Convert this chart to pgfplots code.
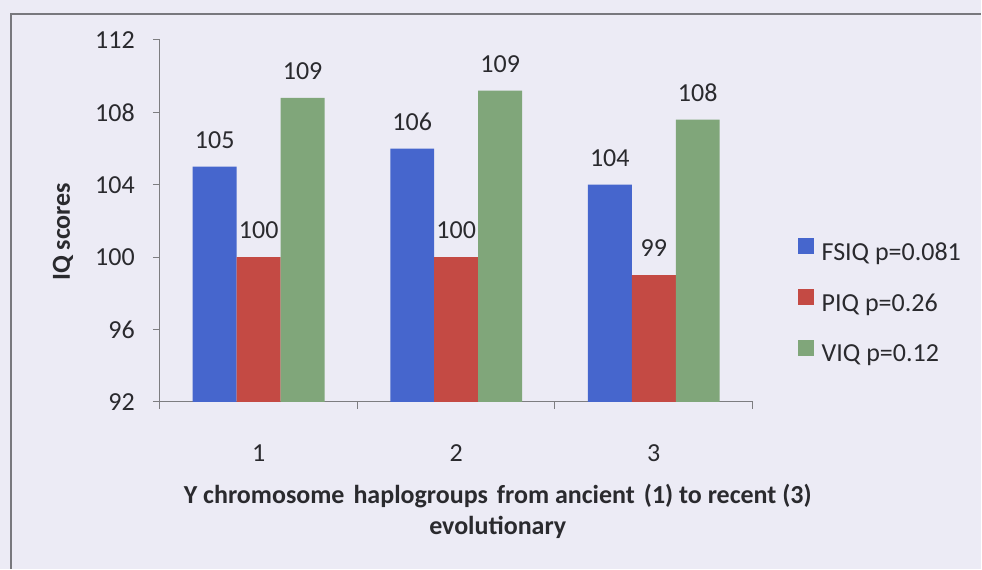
\documentclass[border=0pt]{standalone}
\usepackage{pgfplots}
\pgfplotsset{compat=1.18}
\usepackage{fontspec}
\setmainfont{Carlito}

\definecolor{bgpaper}{RGB}{236,235,245}
\definecolor{framegray}{RGB}{120,120,125}
\definecolor{axisgray}{RGB}{125,125,128}
\definecolor{txt}{RGB}{42,42,46}
\definecolor{fsiq}{RGB}{70,102,205}
\definecolor{piq}{RGB}{196,74,68}
\definecolor{viq}{RGB}{128,166,122}

\newcommand{\chartfont}{\fontsize{26bp}{31bp}\selectfont}
\newcommand{\wsp}{\ \hspace{0.12em}}

\begin{document}
\begin{tikzpicture}
% paper and chart frame
\fill[bgpaper] (0bp,0bp) rectangle (982bp,569bp);
\draw[framegray, line width=1.2bp] (11bp,0bp) -- (11bp,555bp) -- (982bp,555bp);

\begin{axis}[
  at={(160bp,167bp)}, anchor=south west,
  scale only axis,
  width=593bp, height=362bp,
  xmin=0.5, xmax=3.5,
  ymin=92, ymax=112,
  ytick={92,96,100,104,108,112},
  xtick={1,2,3},
  minor xtick={0.5,1.5,2.5,3.5},
  axis lines*=left,
  axis line style={axisgray, line width=1bp, -},
  every tick/.style={axisgray, line width=1bp},
  tick align=outside,
  major tick length=7bp,
  minor tick length=7bp,
  major x tick style={draw=none},
  minor x tick style={draw=axisgray},
  tick label style={font=\chartfont, text=txt},
  /pgf/number format/assume math mode=true,
  yticklabel style={anchor=east, inner sep=0pt, xshift=-18bp},
  xticklabel style={anchor=center, inner sep=0pt, yshift=-44bp},
  ylabel={IQ scores},
  ylabel style={at={(axis description cs:-0.1636,0.47)}, anchor=center,
    font=\chartfont\bfseries, text=txt},
  xlabel={Y chromosome\wsp haplogroups\wsp from ancient\wsp (1) to recent (3)\\evolutionary},
  xlabel style={at={(axis description cs:0.57,-0.304)}, anchor=center,
    align=center, font=\chartfont\bfseries, text=txt},
  ybar=0pt,
  bar width=44bp,
  nodes near coords={\pgfmathprintnumber[fixed,precision=0,assume math mode=true]{\pgfplotspointmeta}},
  every node near coord/.append style={font=\chartfont,
    text=txt, anchor=south, inner sep=0pt, yshift=18bp},
  legend image code/.code={\fill[#1] (0bp,0bp) rectangle (16bp,16bp);},
  legend cell align=left,
  legend style={at={(rel axis cs:1.0759,0.453)}, anchor=north west,
    draw=none, fill=none, inner sep=0pt, column sep=8bp, row sep=23bp,
    font=\chartfont, text=txt,
    nodes={inner sep=0pt, text height=18bp, text depth=6bp}},
]
\addplot[fill=fsiq, draw=none] coordinates {(1,105.0) (2,106.0) (3,104.0)};
\addplot[fill=piq, draw=none] coordinates {(1,100.0) (2,100.0) (3,99.0)};
\addplot[fill=viq, draw=none] coordinates {(1,108.8) (2,109.2) (3,107.6)};
\legend{FSIQ p=0.081, PIQ p=0.26, VIQ p=0.12}
\end{axis}
\end{tikzpicture}
\end{document}
